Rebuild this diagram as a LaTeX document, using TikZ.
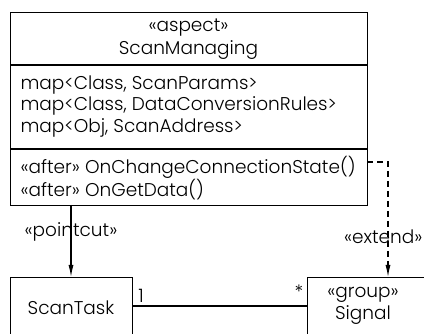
\documentclass[tikz,border=0pt]{standalone}
\usepackage{fontspec}
\setmainfont{Poppins Light}
\usetikzlibrary{arrows.meta}
\begin{document}
\begin{tikzpicture}[x=1pt,y=-1pt,
  line width=1.1pt,
  umlbox/.style={draw,rectangle,inner sep=0pt,anchor=north west},
  txt/.style={inner sep=0pt,font=\fontsize{18.5}{21}\selectfont},
  ltxt/.style={txt,anchor=west},
  tip/.style={-{Latex[length=12pt,width=5pt]}}]
\useasboundingbox (0,0) rectangle (424,334);
\clip (0,0) rectangle (424,334);
% aspect class with its three compartments
\node[umlbox,minimum width=357pt,minimum height=193pt] (sm) at (10,12) {};
\coordinate (d1l) at (10,65);  \coordinate (d1r) at (367,65);
\coordinate (d2l) at (10,149); \coordinate (d2r) at (367,149);
\draw (d1l) -- (d1r);
\draw (d2l) -- (d2r);
\node[txt] (st) at (188.5,28) {«aspect»};
\node[txt] (nm) at (188.5,50) {ScanManaging};
\node[ltxt] (a1) at (20,85) {map<Class, ScanParams>};
\node[ltxt] (a2) at (20,106) {map<Class, DataConversionRules>};
\node[ltxt] (a3) at (20,128) {map<Obj, ScanAddress>};
\node[ltxt] (o1) at (20,167) {«after» OnChangeConnectionState()};
\node[ltxt] (o2) at (20,190) {«after» OnGetData()};
% ScanTask and Signal classes
\node[umlbox,minimum width=122pt,minimum height=80pt] (task) at (10,277) {};
\node[txt] (tasklbl) at (71,308) {ScanTask};
\node[umlbox,minimum width=130pt,minimum height=80pt] (sig) at (307,277) {};
\node[txt] (sigst) at (363,295) {«group»};
\node[txt] (signm) at (363,315) {Signal};
% pointcut
\coordinate (pcs) at (71,205);
\coordinate (pce) at (71,277);
\draw[tip] (pcs) -- (pce);
\node[txt] (pcl) at (71,232) {«pointcut»};
% extend
\coordinate (exs) at (367,162);
\coordinate (exc) at (388,162);
\coordinate (exe) at (388,277);
\draw[tip,dash pattern=on 6pt off 4pt] (exs) -- (exc) -- (exe);
\node[txt,anchor=east] (exl) at (423,237) {«extend»};
% association
\coordinate (asl) at (132,306);
\coordinate (asr) at (307,306);
\draw (asl) -- (asr);
\node[txt] (m1) at (141,296) {1};
\node[txt] (m2) at (299,292) {*};
\end{tikzpicture}
\end{document}
